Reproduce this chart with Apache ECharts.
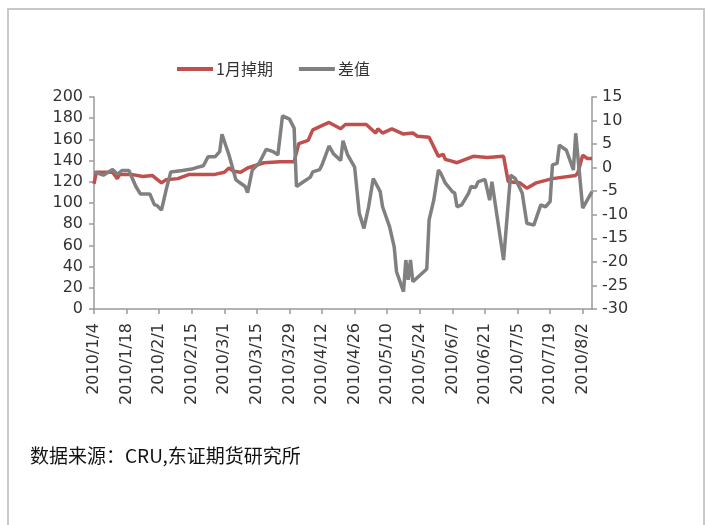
<!DOCTYPE html>
<html>
<head>
<meta charset="utf-8">
<script src="https://cdn.jsdelivr.net/npm/echarts@6/dist/echarts.min.js"></script>
<style>
  html, body { margin: 0; padding: 0; background: #fff; }
  #chart { width: 705px; height: 525px; }
</style>
</head>
<body>
<div id="chart"></div>
<script>
// 1月掉期 (left axis)
let swapDates = ["2010/1/4", "2010/1/5", "2010/1/8", "2010/1/12", "2010/1/14", "2010/1/15", "2010/1/20", "2010/1/25", "2010/1/29", "2010/2/2", "2010/2/4", "2010/2/9", "2010/2/14", "2010/2/20", "2010/2/25", "2010/3/1", "2010/3/3", "2010/3/5", "2010/3/8", "2010/3/11", "2010/3/18", "2010/3/25", "2010/3/31", "2010/4/2", "2010/4/6", "2010/4/8", "2010/4/11", "2010/4/15", "2010/4/20", "2010/4/22", "2010/5/1", "2010/5/5", "2010/5/6", "2010/5/8", "2010/5/12", "2010/5/17", "2010/5/21", "2010/5/23", "2010/5/28", "2010/6/1", "2010/6/3", "2010/6/4", "2010/6/6", "2010/6/9", "2010/6/16", "2010/6/22", "2010/6/29", "2010/7/1", "2010/7/6", "2010/7/9", "2010/7/13", "2010/7/20", "2010/7/30", "2010/7/31", "2010/8/2", "2010/8/4", "2010/8/6"];
let swapValues = [118, 129, 129, 129, 123, 127, 127, 125, 126, 119, 122, 123, 127, 127, 127, 129, 133, 130, 129, 133, 138, 139, 139, 156, 159, 169, 172, 176, 170, 174, 174, 166, 170, 166, 170, 165, 166, 163, 162, 144, 146, 141, 140, 138, 144, 143, 144, 120, 119, 114, 119, 123, 126, 129, 145, 142, 142];

// 差值 (right axis)
let diffDates = ["2010/1/4", "2010/1/8", "2010/1/12", "2010/1/14", "2010/1/16", "2010/1/19", "2010/1/22", "2010/1/24", "2010/1/28", "2010/1/30", "2010/1/31", "2010/2/2", "2010/2/4", "2010/2/6", "2010/2/11", "2010/2/15", "2010/2/17", "2010/2/20", "2010/2/22", "2010/2/25", "2010/2/27", "2010/2/28", "2010/3/3", "2010/3/6", "2010/3/8", "2010/3/10", "2010/3/11", "2010/3/13", "2010/3/16", "2010/3/19", "2010/3/22", "2010/3/24", "2010/3/26", "2010/3/29", "2010/3/31", "2010/4/1", "2010/4/4", "2010/4/7", "2010/4/8", "2010/4/11", "2010/4/12", "2010/4/15", "2010/4/17", "2010/4/20", "2010/4/21", "2010/4/23", "2010/4/26", "2010/4/28", "2010/4/30", "2010/5/2", "2010/5/4", "2010/5/7", "2010/5/8", "2010/5/11", "2010/5/13", "2010/5/14", "2010/5/17", "2010/5/18", "2010/5/19", "2010/5/20", "2010/5/21", "2010/5/25", "2010/5/27", "2010/5/28", "2010/5/30", "2010/6/1", "2010/6/2", "2010/6/4", "2010/6/7", "2010/6/8", "2010/6/9", "2010/6/11", "2010/6/14", "2010/6/15", "2010/6/17", "2010/6/18", "2010/6/21", "2010/6/23", "2010/6/24", "2010/6/29", "2010/7/2", "2010/7/4", "2010/7/7", "2010/7/9", "2010/7/12", "2010/7/15", "2010/7/17", "2010/7/19", "2010/7/20", "2010/7/22", "2010/7/23", "2010/7/26", "2010/7/29", "2010/7/30", "2010/8/2", "2010/8/6"];
let diffValues = [-0.9, -1.6, -0.4, -1.4, -0.6, -0.6, -4.0, -5.6, -5.6, -7.9, -8.0, -9.0, -4.7, -0.9, -0.6, -0.3, 0, 0.4, 2.3, 2.3, 3.4, 7.1, 2.7, -2.6, -3.3, -4.0, -5.3, -0.5, 1.0, 3.9, 3.4, 2.7, 11.0, 10.3, 8.4, -4.0, -3.0, -2.0, -0.9, -0.4, 0.6, 4.6, 2.9, 1.5, 5.7, 2.7, 0.1, -9.7, -12.9, -8.3, -2.3, -5.1, -8.3, -12.5, -16.8, -22.1, -26.3, -19.6, -23.8, -19.6, -24.2, -22.4, -21.5, -11.1, -6.9, -0.5, -1.2, -3.3, -5.1, -5.4, -8.3, -7.9, -5.4, -4.0, -4.2, -3.0, -2.5, -6.9, -3.0, -19.6, -1.6, -2.3, -5.4, -11.8, -12.2, -7.9, -8.3, -7.2, 0.6, 0.9, 4.8, 3.7, -0.5, 7.3, -8.6, -5.1];

let leftTicks = { min: 0, max: 200, interval: 20 };
let rightTicks = { min: -30, max: 15, interval: 5 };

const DAY = 86400000;
const START = Date.UTC(2010, 0, 4);

function dayOf(s) {
  let p = s.split("/");
  return (Date.UTC(+p[0], +p[1] - 1, +p[2]) - START) / DAY;
}
function pairs(dates, values) {
  return dates.map((d, i) => [dayOf(d), values[i]]);
}
function dateLabel(v) {
  if (v % 14 !== 0) return "";
  let d = new Date(START + v * DAY);
  return d.getUTCFullYear() + "/" + (d.getUTCMonth() + 1) + "/" + d.getUTCDate();
}

let axisColor = "#9a9a9a";
let labelColor = "#333";
let labelFont = "DejaVu Sans";

let chart = echarts.init(document.getElementById("chart"));
let option = {
  backgroundColor: "#fff",
  animation: false,
  grid: { left: 94, right: 113, top: 97, bottom: 216 },
  legend: {
    left: 177,
    top: 61,
    padding: 0,
    icon: "rect",
    itemWidth: 36,
    itemHeight: 4,
    itemGap: 26,
    textStyle: { fontSize: 16, color: labelColor, fontFamily: "Noto Sans CJK SC", padding: [0, 0, 0, -2] },
    data: ["1月掉期", "差值"],
  },
  xAxis: {
    type: "value",
    min: 0,
    max: 214,
    interval: 14,
    splitLine: { show: false },
    axisLine: { onZero: false, lineStyle: { color: axisColor, width: 1.5 } },
    axisTick: { length: 5, lineStyle: { color: axisColor, width: 1.5 } },
    axisLabel: {
      rotate: 90,
      margin: 14,
      fontSize: 16,
      color: labelColor,
      fontFamily: labelFont,
      showMaxLabel: false,
      formatter: dateLabel,
    },
  },
  yAxis: [
    {
      type: "value",
      min: leftTicks.min,
      max: leftTicks.max,
      interval: leftTicks.interval,
      splitLine: { show: false },
      axisLine: { show: true, lineStyle: { color: axisColor, width: 1.5 } },
      axisTick: { show: true, length: 5, lineStyle: { color: axisColor, width: 1.5 } },
      axisLabel: { margin: 11, fontSize: 16, color: labelColor, fontFamily: labelFont },
    },
    {
      type: "value",
      position: "right",
      min: rightTicks.min,
      max: rightTicks.max,
      interval: rightTicks.interval,
      splitLine: { show: false },
      axisLine: { show: true, lineStyle: { color: axisColor, width: 1.5 } },
      axisTick: { show: true, length: 5, lineStyle: { color: axisColor, width: 1.5 } },
      axisLabel: { margin: 10, fontSize: 16, color: labelColor, fontFamily: labelFont },
    },
  ],
  series: [
    {
      name: "1月掉期",
      type: "line",
      yAxisIndex: 0,
      showSymbol: false,
      color: "#c0504d",
      lineStyle: { width: 3.5, color: "#c0504d" },
      data: pairs(swapDates, swapValues),
      z: 2,
    },
    {
      name: "差值",
      type: "line",
      yAxisIndex: 1,
      showSymbol: false,
      color: "#808080",
      lineStyle: { width: 3.5, color: "#808080" },
      data: pairs(diffDates, diffValues),
      z: 3,
    },
  ],
  graphic: [
    {
      type: "rect",
      shape: { x: 8, y: 9, width: 696, height: 600 },
      style: { fill: "none", stroke: "#c8c8c8", lineWidth: 2 },
    },
    {
      type: "text",
      left: 30,
      top: 446,
      style: {
        text: "数据来源：CRU,东证期货研究所",
        font: "19px 'Noto Sans CJK SC'",
        fill: "#111",
      },
    },
  ],
};
chart.setOption(option);
</script>
</body>
</html>
